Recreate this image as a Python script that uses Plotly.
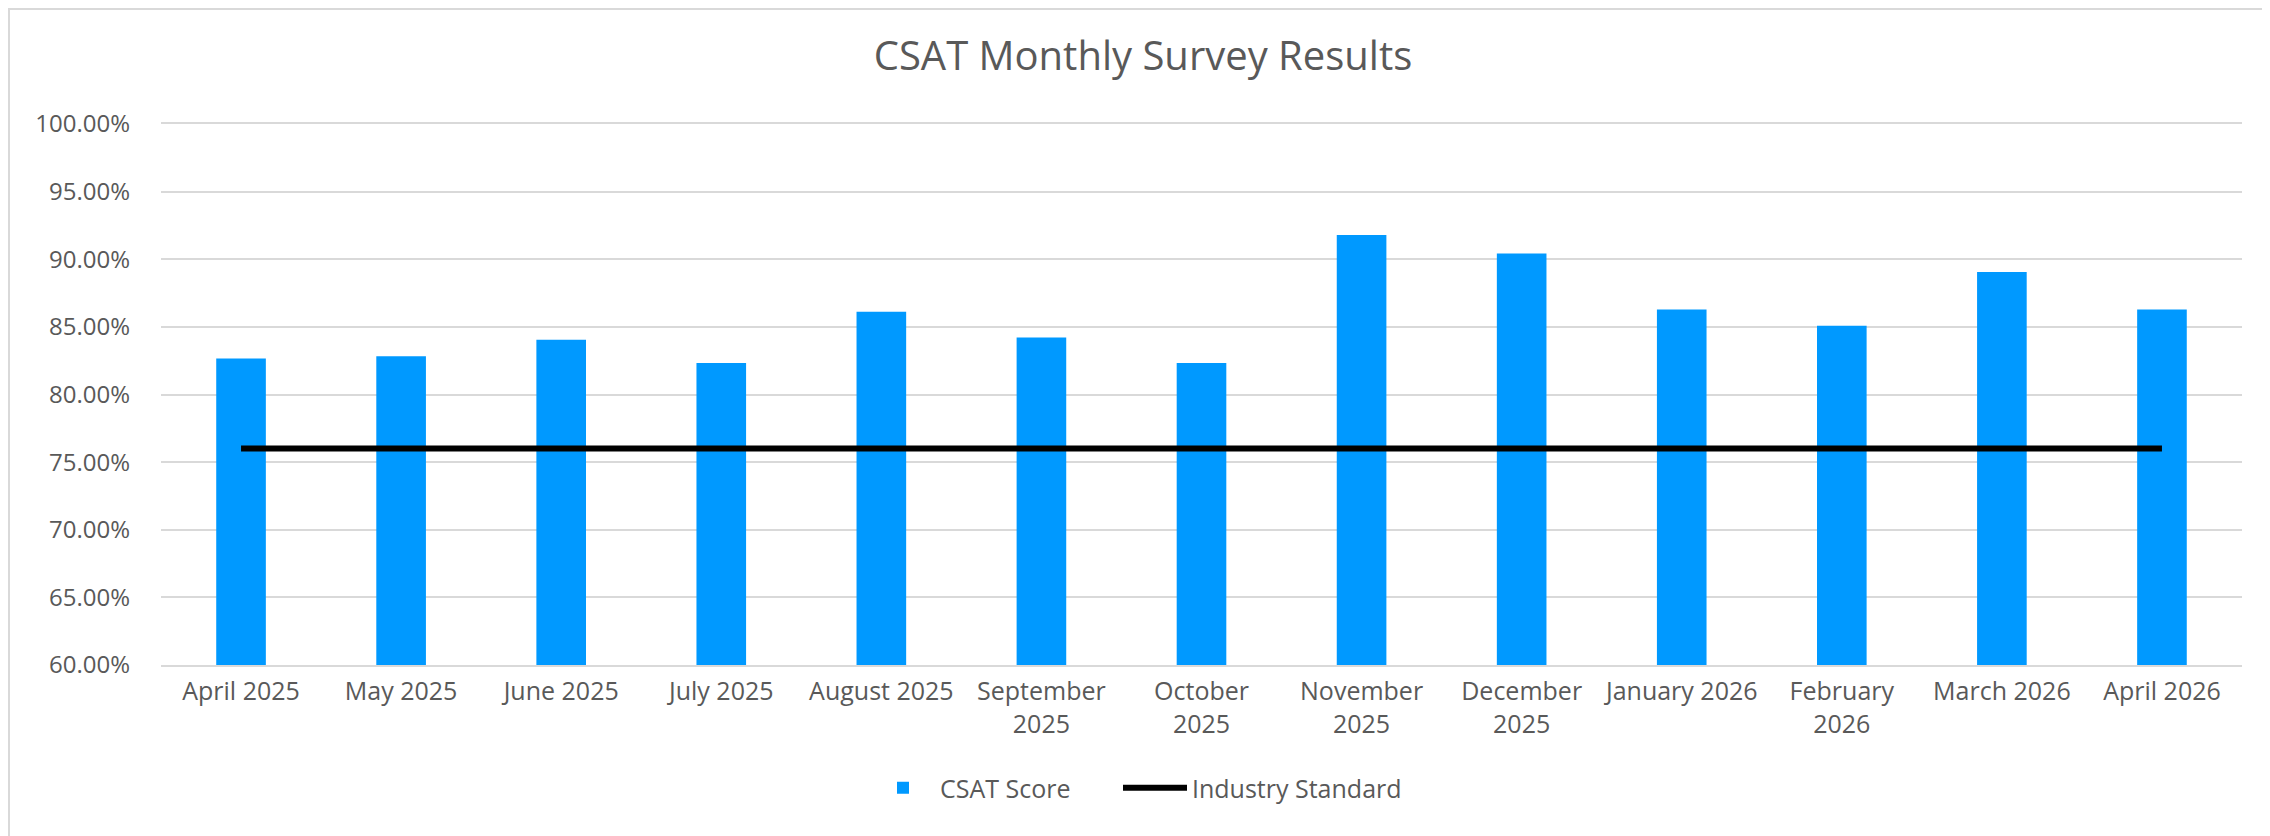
import plotly.graph_objects as go

months = ["April 2025", "May 2025", "June 2025", "July 2025", "August 2025",
          "September 2025", "October 2025", "November 2025", "December 2025",
          "January 2026", "February 2026", "March 2026", "April 2026"]
tick_labels = ["April 2025", "May 2025", "June 2025", "July 2025", "August 2025",
               "September<br>2025", "October<br>2025", "November<br>2025", "December<br>2025",
               "January 2026", "February<br>2026", "March 2026", "April 2026"]
csat_score = [0.8266, 0.8283, 0.8405, 0.8232, 0.8612, 0.8422, 0.8232,
              0.9179, 0.9043, 0.8629, 0.8508, 0.8905, 0.8629]
industry_standard = [0.76, 0.76, 0.76, 0.76, 0.76, 0.76, 0.76,
                     0.76, 0.76, 0.76, 0.76, 0.76, 0.76]
y_ticks = [0.60, 0.65, 0.70, 0.75, 0.80, 0.85, 0.90, 0.95, 1.00]

FONT = "Open Sans"
GRAY = "#595959"
GRID = "#d9d9d9"

fig = go.Figure()
fig.add_trace(go.Bar(
    x=months, y=csat_score, name="CSAT Score",
    marker=dict(color="#0099ff", line=dict(width=0)),
    width=0.31, legend="legend",
))
fig.add_trace(go.Scatter(
    x=months, y=industry_standard, name="Industry Standard",
    mode="lines", line=dict(color="#000000", width=6), legend="legend2",
))

legend_common = dict(orientation="h", xref="container", yref="container",
                     xanchor="left", y=1 - 780 / 836, yanchor="middle",
                     font=dict(family=FONT, size=25, color=GRAY),
                     itemwidth=64, bgcolor="rgba(0,0,0,0)")

fig.update_layout(
    width=2270, height=836,
    paper_bgcolor="white", plot_bgcolor="white",
    margin=dict(l=153, r=36, t=116, b=179, autoexpand=False),
    font=dict(family=FONT, size=25, color=GRAY),
    title=dict(text="CSAT Monthly Survey Results", x=0.5, xref="container", xanchor="center",
               y=1 - 48 / 836, yref="container", yanchor="middle",
               font=dict(family=FONT, size=40, color=GRAY)),
    showlegend=True,
    legend=dict(x=858 / 2270, **legend_common),
    legend2=dict(x=1110 / 2270, **legend_common),
)
fig.update_xaxes(
    type="category", tickmode="array", tickvals=months, ticktext=tick_labels,
    range=[-0.5, 12.5], showgrid=False, showline=True, mirror=True,
    linecolor=GRID, linewidth=2,
    ticks="", ticklabelstandoff=3, tickangle=0,
    tickfont=dict(family=FONT, size=25, color=GRAY),
)
fig.update_yaxes(
    range=[0.60, 1.00], tickmode="array", tickvals=y_ticks, tickformat=".2%",
    showgrid=True, gridcolor=GRID, gridwidth=2, zeroline=False, showline=False,
    ticks="", ticklabelstandoff=30,
    tickfont=dict(family=FONT, size=24, color=GRAY),
)

# outer chart border
fig.add_shape(type="rect", xref="paper", yref="paper",
              x0=(1 - 153) / 2081, x1=(2269 - 153) / 2081,
              y0=(657 - 835) / 541, y1=(657 - 1) / 541,
              line=dict(color=GRID, width=2), layer="below")

fig.write_html("out.html")
